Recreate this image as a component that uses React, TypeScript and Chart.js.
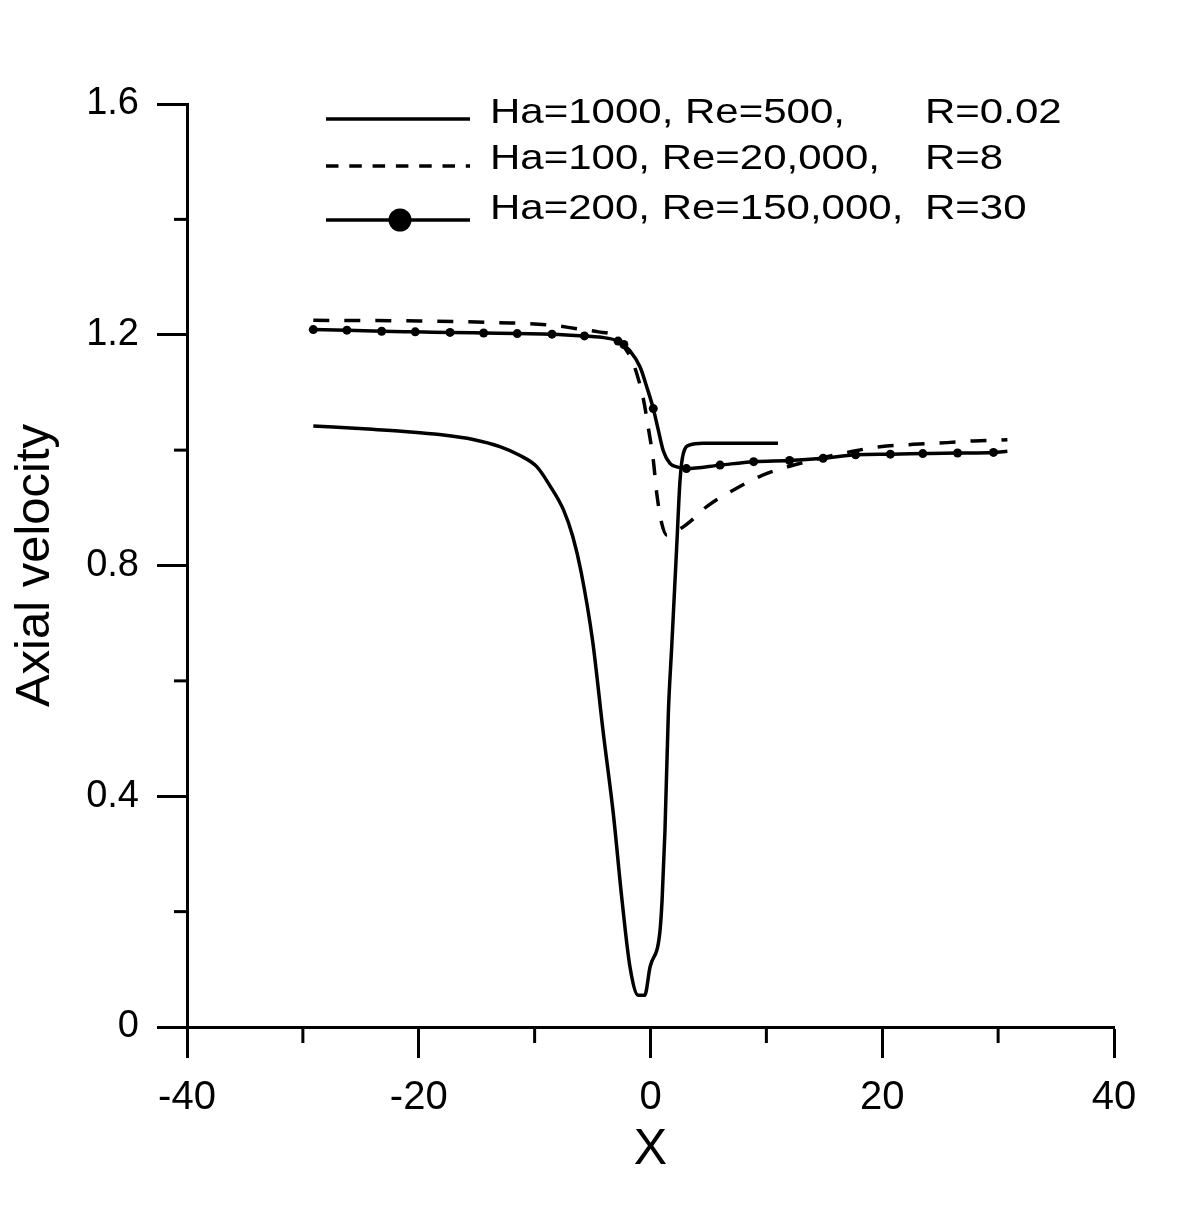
import React, { useEffect, useRef } from 'react';
import { Chart, registerables } from 'chart.js';

Chart.register(...registerables);

// ---- axis ticks ----
const X_MAJOR = [-40, -20, 0, 20, 40];
const X_LABELS = ['-40', '-20', '0', '20', '40'];
const X_MINOR = [-30, -10, 10, 30];
const Y_MAJOR = [0, 0.4, 0.8, 1.2, 1.6];
const Y_LABELS = ['0', '0.4', '0.8', '1.2', '1.6'];
const Y_MINOR = [0.2, 0.6, 1.0, 1.4];

// ---- series: Ha=1000, Re=500, R=0.02 (solid) ----
const HA1000_X = [-29.1, -24, -21, -18.2, -15.3, -13, -11.3, -9.8, -8.7, -7.5, -6.7, -6.0, -5.0, -4.07, -3.21, -2.49, -1.77, -1.05, -0.5, -0.04, 0.8, 1.0, 1.25, 1.54, 1.83, 2.26, 2.55, 2.83, 3.4, 4.5, 11.0];
const HA1000_Y = [1.042, 1.036, 1.032, 1.027, 1.0185, 1.006, 0.991, 0.971, 0.939, 0.896, 0.85, 0.79, 0.67, 0.509, 0.37, 0.226, 0.104, 0.055, 0.055, 0.104, 0.163, 0.22, 0.341, 0.544, 0.659, 0.832, 0.948, 0.994, 1.009, 1.012, 1.012];

// ---- series: Ha=100, Re=20,000, R=8 (dashed) ----
const HA100_X = [-29.1, -20, -13, -8.7, -6.5, -4.5, -3.2, -2.4, -1.6, -1.0, -0.6, -0.2, 0.24, 0.54, 0.97, 1.4, 2.0, 2.83, 3.41, 4.85, 7.44, 9.73, 12, 14.5, 17, 19.8, 22.7, 25.6, 27.9, 30.8];
const HA100_Y = [1.225, 1.224, 1.221, 1.217, 1.211, 1.205, 1.199, 1.182, 1.156, 1.12, 1.087, 1.04, 0.983, 0.925, 0.873, 0.853, 0.858, 0.867, 0.876, 0.902, 0.934, 0.957, 0.972, 0.985, 0.996, 1.006, 1.01, 1.013, 1.016, 1.018];

// ---- series: Ha=200, Re=150,000, R=30 (solid with dots) ----
const HA200_X = [-29.1, -26.2, -23.2, -20.3, -17.3, -14.4, -11.5, -8.5, -5.7, -4.4, -2.7, -1.8, -0.9, -0.33, 0.24, 0.67, 1.1, 1.68, 2.26, 3.1, 6.0, 8.9, 12.0, 14.9, 17.7, 20.7, 23.5, 26.5, 29.6, 30.8];
const HA200_Y = [1.209, 1.208, 1.206, 1.205, 1.204, 1.203, 1.202, 1.201, 1.198, 1.196, 1.188, 1.173, 1.144, 1.11, 1.072, 1.035, 0.999, 0.977, 0.971, 0.968, 0.974, 0.98, 0.982, 0.986, 0.992, 0.993, 0.994, 0.995, 0.996, 0.998];
const HA200_MARK_X = [-29.1, -26.2, -23.2, -20.3, -17.3, -14.4, -11.5, -8.5, -5.7, -2.8, -2.3, 0.24, 3.1, 6.0, 8.9, 12.0, 14.9, 17.7, 20.7, 23.5, 26.5, 29.6];
const HA200_MARK_Y = [1.209, 1.208, 1.206, 1.205, 1.204, 1.203, 1.202, 1.201, 1.198, 1.189, 1.183, 1.072, 0.968, 0.974, 0.98, 0.982, 0.986, 0.992, 0.993, 0.994, 0.995, 0.996];

// ---- legend texts ----
const LEGEND_LEFT = ['Ha=1000, Re=500,', 'Ha=100, Re=20,000,', 'Ha=200, Re=150,000,'];
const LEGEND_RIGHT = ['R=0.02', 'R=8', 'R=30'];

const FONT = '"Liberation Sans", Arial, Helvetica, sans-serif';

const pts = (xs: number[], ys: number[]) => xs.map((x, i) => ({ x, y: ys[i] }));

const minorTicksPlugin = {
  id: 'minorTicks',
  afterDraw(chart: any) {
    const { ctx, chartArea } = chart;
    const xs = chart.scales.x;
    const ys = chart.scales.y;
    ctx.save();
    ctx.strokeStyle = '#000';
    ctx.lineWidth = 3;
    ctx.setLineDash([]);
    X_MINOR.forEach((v) => {
      const px = xs.getPixelForValue(v);
      ctx.beginPath();
      ctx.moveTo(px, chartArea.bottom);
      ctx.lineTo(px, chartArea.bottom + 16);
      ctx.stroke();
    });
    Y_MINOR.forEach((v) => {
      const py = ys.getPixelForValue(v);
      ctx.beginPath();
      ctx.moveTo(chartArea.left - 13, py);
      ctx.lineTo(chartArea.left, py);
      ctx.stroke();
    });
    ctx.restore();
  },
};

const legendPlugin = {
  id: 'customLegend',
  afterDraw(chart: any) {
    const ctx = chart.ctx;
    const lineY = [119, 166, 220];
    const baseY = [122.5, 169, 219];
    ctx.save();
    ctx.strokeStyle = '#000';
    ctx.fillStyle = '#000';
    ctx.lineWidth = 3.5;
    lineY.forEach((ly, i) => {
      ctx.setLineDash(i === 1 ? [12.5, 10.8] : []);
      ctx.beginPath();
      ctx.moveTo(326, ly);
      ctx.lineTo(470, ly);
      ctx.stroke();
      ctx.setLineDash([]);
      if (i === 2) {
        ctx.beginPath();
        ctx.arc(400, ly, 11.5, 0, Math.PI * 2);
        ctx.fill();
      }
      ctx.font = `35px ${FONT}`;
      ctx.textBaseline = 'alphabetic';
      ctx.textAlign = 'left';
      const draw = (t: string, x: number) => {
        ctx.save();
        ctx.translate(x, baseY[i]);
        ctx.scale(1.2, 1);
        ctx.fillText(t, 0, 0);
        ctx.restore();
      };
      draw(LEGEND_LEFT[i], 490);
      draw(LEGEND_RIGHT[i], 925);
    });
    ctx.restore();
  },
};

export default function App() {
  const ref = useRef<HTMLCanvasElement>(null);

  useEffect(() => {
    if (!ref.current) return;
    const chart = new Chart(ref.current, {
      type: 'line',
      data: {
        datasets: [
          {
            label: 'Ha=1000, Re=500, R=0.02',
            data: pts(HA1000_X, HA1000_Y),
            borderColor: '#000',
            borderWidth: 3.5,
            pointRadius: 0,
            cubicInterpolationMode: 'monotone',
            fill: false,
          },
          {
            label: 'Ha=100, Re=20,000, R=8',
            data: pts(HA100_X, HA100_Y),
            borderColor: '#000',
            borderWidth: 3.5,
            borderDash: [16, 15],
            pointRadius: 0,
            cubicInterpolationMode: 'monotone',
            fill: false,
          },
          {
            label: 'Ha=200, Re=150,000, R=30',
            data: pts(HA200_X, HA200_Y),
            borderColor: '#000',
            borderWidth: 3.5,
            pointRadius: 0,
            cubicInterpolationMode: 'monotone',
            fill: false,
          },
          {
            label: 'Ha=200 markers',
            data: pts(HA200_MARK_X, HA200_MARK_Y),
            showLine: false,
            borderColor: '#000',
            backgroundColor: '#000',
            borderWidth: 0,
            pointRadius: 4.5,
            pointStyle: 'circle',
          },
        ],
      } as any,
      options: {
        responsive: false,
        maintainAspectRatio: false,
        animation: false,
        devicePixelRatio: 1,
        layout: { padding: { top: 104, right: 86, left: 0, bottom: 0 } },
        plugins: {
          legend: { display: false },
          tooltip: { enabled: false },
          title: { display: false },
        },
        scales: {
          x: {
            type: 'linear',
            min: -40,
            max: 40,
            afterBuildTicks: (s: any) => {
              s.ticks = X_MAJOR.map((v) => ({ value: v }));
            },
            afterFit: (s: any) => {
              s.height = 194;
            },
            ticks: {
              autoSkip: false,
              maxRotation: 0,
              minRotation: 0,
              padding: 16,
              color: '#000',
              font: { family: FONT, size: 40 },
              callback: (_v: any, i: number) => X_LABELS[i],
            },
            grid: {
              drawOnChartArea: false,
              drawTicks: true,
              tickLength: 31,
              tickWidth: 3,
              tickColor: '#000',
            },
            border: { display: true, color: '#000', width: 3 },
            title: {
              display: true,
              text: 'X',
              color: '#000',
              font: { family: FONT, size: 50, lineHeight: 1.2 },
              padding: { top: 0, bottom: 41 },
            },
          },
          y: {
            type: 'linear',
            min: 0,
            max: 1.6,
            afterBuildTicks: (s: any) => {
              s.ticks = Y_MAJOR.map((v) => ({ value: v }));
            },
            afterFit: (s: any) => {
              s.width = 187;
            },
            ticks: {
              autoSkip: false,
              padding: 18,
              color: '#000',
              font: { family: FONT, size: 38 },
              callback: (_v: any, i: number) => Y_LABELS[i],
            },
            grid: {
              drawOnChartArea: false,
              drawTicks: true,
              tickLength: 30,
              tickWidth: 3,
              tickColor: '#000',
            },
            border: { display: true, color: '#000', width: 3 },
            title: {
              display: true,
              text: 'Axial velocity',
              color: '#000',
              font: { family: FONT, size: 49, lineHeight: 1.2 },
              padding: { top: 6, bottom: 0 },
            },
          },
        },
      } as any,
      plugins: [minorTicksPlugin, legendPlugin],
    });
    return () => chart.destroy();
  }, []);

  return (
    <div style={{ position: 'absolute', left: 0, top: 0, width: 1200, height: 1221, background: '#fff' }}>
      <canvas ref={ref} width={1200} height={1221} style={{ display: 'block', width: 1200, height: 1221 }} />
    </div>
  );
}
